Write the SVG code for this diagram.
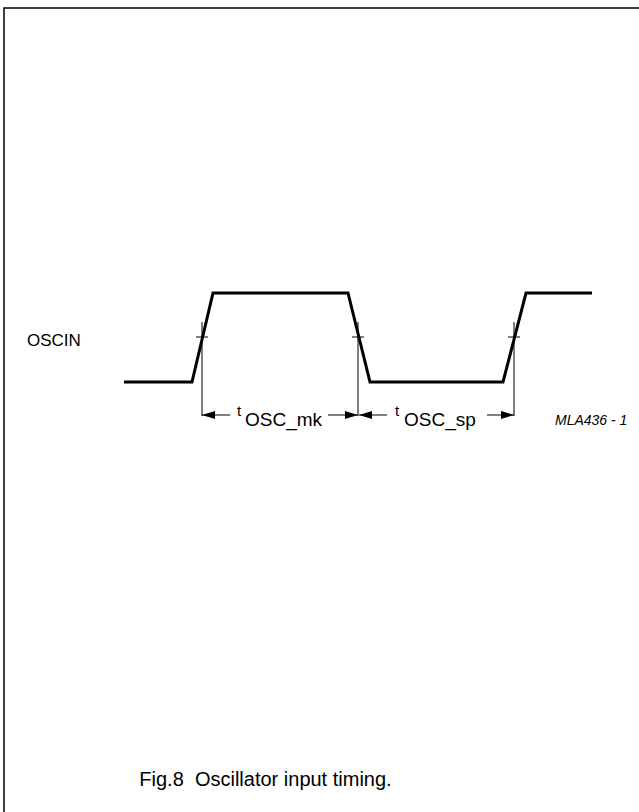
<svg xmlns="http://www.w3.org/2000/svg" width="639" height="812" viewBox="0 0 639 812">
<style>
.frame{fill:none;stroke:#000;stroke-width:1.5}
.wave{fill:none;stroke:#000;stroke-width:3;stroke-linejoin:miter}
.thin{fill:none;stroke:#000;stroke-width:1}
.txt{font-family:"Liberation Sans",Arial,sans-serif;fill:#000}
</style>
<defs>
<marker id="ah" viewBox="0 0 13 8" refX="13" refY="4" markerWidth="13" markerHeight="8" markerUnits="userSpaceOnUse" orient="auto">
<path d="M0,0 L13,4 L0,8 Z" fill="#000"/>
</marker>
</defs>
<rect width="639" height="812" fill="#fff"/>
<path class="frame" d="M4,830 L4,8 L660,8"/>
<g id="oscin-label">
<text class="txt" x="27" y="346" font-size="17">OSCIN</text>
</g>
<g id="waveform">
<polyline class="wave" points="124,382 192,382 213,293 348,293 370,382 503,382 526,293 592,293"/>
</g>
<g id="connectors">
<line class="thin" x1="202" y1="322" x2="202" y2="416"/>
<line class="thin" x1="358" y1="322" x2="358" y2="416"/>
<line class="thin" x1="514" y1="322" x2="514" y2="416"/>
<line class="thin" x1="196" y1="337" x2="208" y2="337"/>
<line class="thin" x1="352" y1="337" x2="364" y2="337"/>
<line class="thin" x1="508" y1="337" x2="520" y2="337"/>
<line class="thin" x1="230" y1="415" x2="202" y2="415" marker-end="url(#ah)"/>
<line class="thin" x1="328" y1="415" x2="358" y2="415" marker-end="url(#ah)"/>
<line class="thin" x1="387" y1="415" x2="359" y2="415" marker-end="url(#ah)"/>
<line class="thin" x1="487" y1="415" x2="514" y2="415" marker-end="url(#ah)"/>
</g>
<g id="label-mk">
<text class="txt" x="237" y="416" font-size="15">t</text>
<text class="txt" x="245" y="426" font-size="19">OSC_mk</text>
</g>
<g id="label-sp">
<text class="txt" x="395" y="416" font-size="15">t</text>
<text class="txt" x="404" y="426" font-size="19">OSC_sp</text>
</g>
<g id="ref-code">
<text class="txt" x="555" y="425" font-size="14" font-style="italic">MLA436 - 1</text>
</g>
<g id="caption">
<text class="txt" x="265.5" y="786" font-size="20" text-anchor="middle" xml:space="preserve" style="white-space:pre">Fig.8  Oscillator input timing.</text>
</g>
</svg>
